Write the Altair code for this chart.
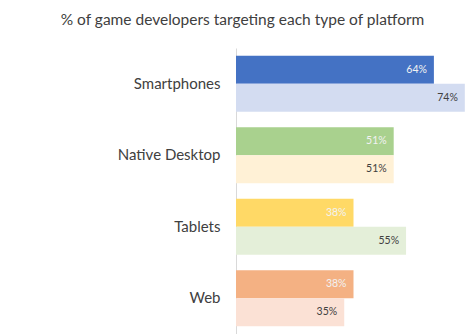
import altair as alt
import pandas as pd

platforms = ["Smartphones", "Native Desktop", "Tablets", "Web"]
current = [64, 51, 38, 38]
previous = [74, 51, 55, 35]
solid_colors = ["#4472C4", "#A9D18E", "#FFD966", "#F4B183"]
pale_colors = ["#D3DCF1", "#FFF1D6", "#E4EFD9", "#FBE1D5"]

rows = []
for i, p in enumerate(platforms):
    rows.append({"platform": p, "series": "a", "value": current[i],
                 "fill": solid_colors[i], "tcolor": "#F2F2F2"})
    rows.append({"platform": p, "series": "b", "value": previous[i],
                 "fill": pale_colors[i], "tcolor": "#404040"})
df = pd.DataFrame(rows)
df["label"] = df["value"].astype(str) + "%"

y = alt.Y("platform:N", sort=platforms, title=None,
          scale=alt.Scale(paddingInner=0.22, paddingOuter=0.11),
          axis=alt.Axis(ticks=False, domainColor="#D9D9D9", labelFont="Lato",
                        labelFontSize=15, labelColor="#404040", labelPadding=16))
x = alt.X("value:Q", scale=alt.Scale(domain=[0, 76]), axis=None)
yo = alt.YOffset("series:N", sort=["a", "b"])

bars = alt.Chart(df).mark_bar(cornerRadius=0).encode(
    y=y, x=x, yOffset=yo, fill=alt.Fill("fill:N", scale=None)
)
texts = alt.Chart(df).mark_text(align="right", dx=-7, font="Lato", fontSize=10.5).encode(
    y=y, x=x, yOffset=yo, text="label:N", fill=alt.Fill("tcolor:N", scale=None)
)

chart = (bars + texts).properties(
    width=235, height=286,
    autosize=alt.AutoSizeParams(type="none"),
    padding={"left": 236, "top": 48, "right": 1, "bottom": 0},
    title=alt.TitleParams("% of game developers targeting each type of platform",
                          font="Lato", fontSize=15.5, fontWeight="normal",
                          color="#404040", anchor="middle", frame="group",
                          dx=-111, offset=20),
).configure_view(stroke=None)

chart.save("out.html", embed_options={"renderer": "svg", "actions": False})
